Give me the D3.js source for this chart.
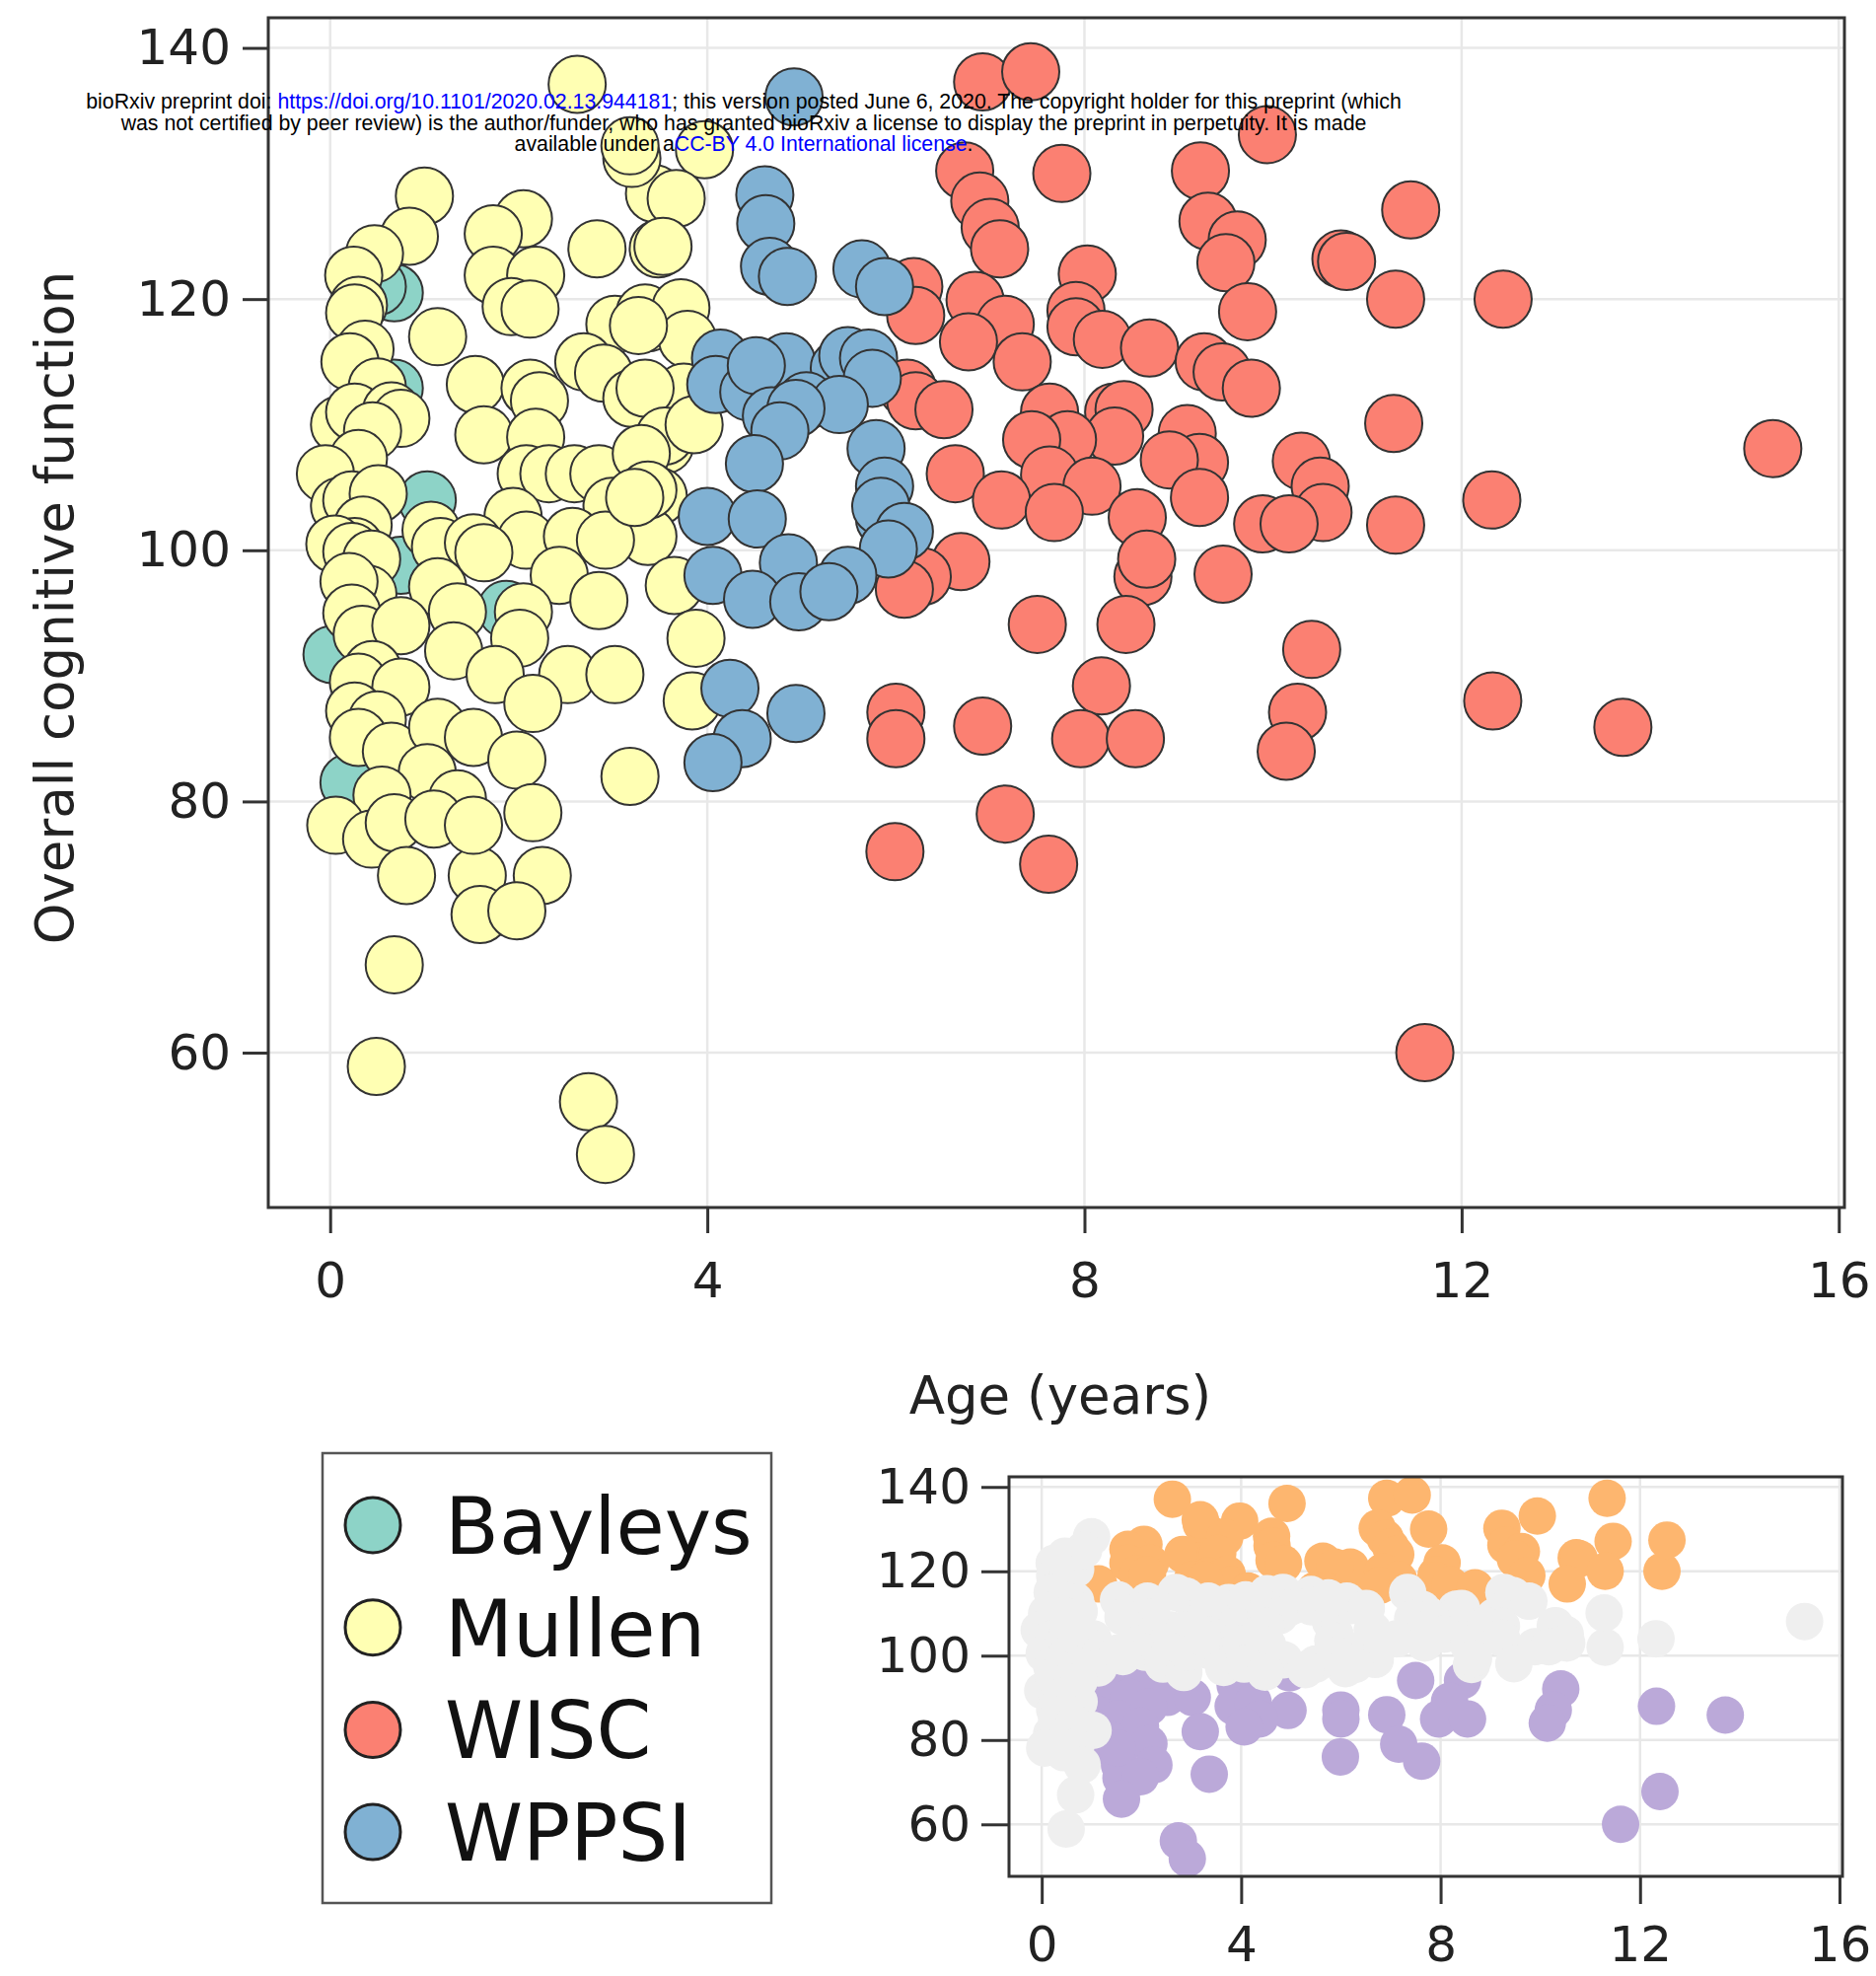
<!DOCTYPE html>
<html>
<head>
<meta charset="utf-8">
<script src="https://cdn.jsdelivr.net/npm/d3@7"></script>
<style>
body { margin: 0; background: #fff; }
</style>
</head>
<body>
<script>
// [age (years), overall cognitive score] per instrument
var bayleys = [[0.68,120.5],[0.5,121],[0.68,112.9],[1.03,104.0],[0.75,98.8],[0.02,91.7],[1.87,95.3],[0.2,81.5]];

var mullen = [
  [1.0,128.2],[0.84,125.0],[0.47,123.6],[0.25,121.9],[0.3,119.5],[0.26,118.9],[0.37,116.0],[0.21,115.0],
  [0.5,113],[0.1,110],[0.26,111.0],[0.65,111.1],[0.75,110.5],[0.45,109.5],[0.3,107.3],[-0.05,106.1],
  [0.1,103.5],[0.23,104.0],[0.51,104.5],[0.35,102],[0.26,100.3],[0.05,100.5],[1.07,101.6],[1.14,117.0],
  [2.05,126.4],[1.73,125.2],[1.73,121.9],[2.18,121.9],[1.92,119.4],[2.12,119.2],[2.83,124.0],[3.44,128.4],
  [3.48,124.0],[3.2,131.2],[3.02,118.0],[3.37,118.1],[2.69,115.0],[2.9,114.1],[3.2,112.1],[3.55,108.4],
  [1.54,113.2],[2.12,112.9],[2.22,111.9],[1.63,109.2],[2.18,109.0],[2.08,106.1],[2.32,106.1],[2.59,106.1],
  [2.85,106.1],[3.48,104.3],[2.99,103.5],[1.94,102.7],[2.08,100.8],[3.37,101.1],[1.17,100.3],[1.52,100.6],
  [2.57,101.1],[0.23,99.9],[0.44,99.3],[1.14,97.1],[1.63,99.8],[2.43,98.0],[2.85,96.0],[2.92,100.8],
  [0.4,96.5],[0.2,97.5],[0.23,95.0],[0.34,93.3],[0.75,94.0],[1.35,95.1],[1.31,92.0],[2.05,95.1],
  [2.01,93.0],[1.75,90.1],[2.52,90.1],[3.02,90.1],[0.45,90.5],[0.3,89.5],[0.75,89.1],[0.26,87.2],
  [0.5,86.5],[0.3,85.1],[0.65,84],[1.14,85.9],[1.52,85.1],[2.15,87.8],[1.98,83.3],[1.03,82.3],
  [0.55,80.5],[1.35,80.2],[2.15,79.1],[3.18,82.0],[0.06,78.1],[0.44,77.0],[0.68,78.3],[0.81,74.1],
  [1.56,74.1],[2.25,74.1],[1.59,71.0],[1.98,71.3],[1.1,78.6],[1.52,78.1],[0.68,67.0],[0.49,58.9],
  [2.74,56.1],[2.92,51.9],[2.62,137.1],[3.18,132.2],[3.97,131.9],[3.67,128.0],[3.53,124.2],[3.34,118.9],
  [3.72,119.3],[3.79,116.8],[3.27,117.9],[3.75,112.6],[3.34,112.9],[3.55,109.1],[3.86,110.0],[3.3,107.7],
  [3.37,104.8],[3.23,104.2],[3.65,97.2],[3.88,93.0],[3.84,88.0]
];

var wisc = [
  [6.92,137.3],[7.43,138.1],[9.94,133.1],[6.73,130.2],[7.76,130.0],[9.23,130.2],[6.89,127.8],[7.0,125.7],
  [7.1,124.0],[9.31,126.2],[9.62,124.7],[9.5,122.9],[9.73,119.0],[11.46,127.1],[10.72,123.2],[10.78,123.0],
  [11.3,120.0],[12.44,120.0],[6.19,121.0],[6.21,118.7],[6.84,119.9],[7.16,118.0],[8.03,122.0],[7.91,119.1],
  [7.91,117.8],[6.77,116.6],[8.19,116.8],[8.69,116.1],[7.34,115.0],[9.27,115.0],[9.46,114.2],[9.77,112.9],
  [6.12,112.9],[6.21,111.9],[6.51,111.2],[7.63,111.0],[8.31,111.0],[8.42,111.2],[9.09,109.3],[8.32,109.1],
  [7.82,108.8],[7.44,108.8],[9.22,107.0],[8.9,107.2],[6.63,106.1],[7.63,106.0],[8.08,105.1],[7.12,104.0],
  [7.68,103.0],[8.56,102.6],[9.22,104.2],[10.3,107.1],[10.5,105.1],[10.53,103.0],[9.89,102.1],[10.17,102.1],
  [11.3,102.0],[11.28,110.1],[12.32,104.0],[15.3,108.1],[8.62,97.9],[8.66,99.3],[9.47,98.1],[6.69,99.1],
  [6.28,97.9],[6.09,96.9],[7.5,94.1],[8.44,94.1],[10.41,92.1],[8.18,89.2],[10.26,87.1],[10.14,84.0],
  [12.33,88.0],[13.71,85.9],[6.0,87.1],[6.0,85.0],[6.92,86.0],[7.96,85.0],[8.54,85.0],[7.16,79.0],
  [5.99,76.0],[7.62,75.0],[11.61,60.0]
];

var wppsi = [
  [4.92,136.1],[4.61,128.3],[4.62,126.0],[4.66,122.6],[4.85,121.8],[5.64,122.4],[5.88,121.0],[4.14,115.3],
  [4.09,113.2],[4.44,112.6],[4.86,114.2],[4.84,115.0],[5.4,114.5],[5.49,115.5],[5.71,115.3],[5.75,113.7],
  [4.52,114.7],[5.05,111.9],[4.68,110.7],[5.4,111.6],[4.94,111.3],[4.77,109.5],[4.5,106.9],[5.79,108.1],
  [5.88,105.1],[4.0,102.7],[4.53,102.5],[5.88,102.5],[5.84,103.5],[6.09,101.5],[5.92,100.1],[4.06,98.0],
  [4.86,99.0],[4.48,96.1],[4.97,95.9],[5.49,98.0],[5.29,96.7],[4.24,89.0],[4.94,87.0],[4.37,85.0],[4.06,83.1]
];

// small panel: points
var insetExtraHigh = [[11.34,137.3],[12.54,127.4],[10.54,117.0]];
var insetExtraLow = [[12.4,67.8],[3.36,71.9],[1.6,66.0]];

var tests = ["Bayleys", "Mullen", "WISC", "WPPSI"];
var testData = [bayleys, mullen, wisc, wppsi];
var colors = ["#8dd3c7", "#ffffb3", "#fb8072", "#80b1d3"];

var xTicks = [0, 4, 8, 12, 16];
var yTicks = [60, 80, 100, 120, 140];
var xDomain = [-0.656, 16.06];
var yDomain = [47.67, 142.4];

var width = 1902, height = 2003;
var tickFont = "'DejaVu Sans', sans-serif";

var svg = d3.select("body").append("svg")
    .attr("width", width)
    .attr("height", height)
    .style("background", "#fff");

function drawGrid(g, x, y) {
    g.selectAll(".vgrid").data(xTicks).enter().append("line")
        .attr("x1", d => x(d)).attr("x2", d => x(d))
        .attr("y1", y.range()[1]).attr("y2", y.range()[0])
        .attr("stroke", "#e8e8e8").attr("stroke-width", 2.5);
    g.selectAll(".hgrid").data(yTicks).enter().append("line")
        .attr("x1", x.range()[0]).attr("x2", x.range()[1])
        .attr("y1", d => y(d)).attr("y2", d => y(d))
        .attr("stroke", "#e8e8e8").attr("stroke-width", 2.5);
}

function styleAxis(ax) {
    ax.select(".domain").remove();
    ax.selectAll("line").attr("stroke", "#333").attr("stroke-width", 3);
    ax.selectAll("text").attr("fill", "#222").style("font-family", tickFont).style("font-size", "50px");
}

// ---------- main panel ----------
var x = d3.scaleLinear().domain(xDomain).range([272, 1870]);
var y = d3.scaleLinear().domain(yDomain).range([1224, 18]);

var main = svg.append("g");
drawGrid(main, x, y);

testData.forEach(function(data, i) {
    main.append("g").selectAll("circle")
        .data(data)
        .enter().append("circle")
        .attr("cx", d => x(d[0]))
        .attr("cy", d => y(d[1]))
        .attr("r", 29)
        .attr("fill", colors[i])
        .attr("stroke", "#333")
        .attr("stroke-width", 2);
});

main.append("rect")
    .attr("x", 272).attr("y", 18).attr("width", 1870 - 272).attr("height", 1224 - 18)
    .attr("fill", "none").attr("stroke", "#333").attr("stroke-width", 3);

var yAx = main.append("g").attr("transform", "translate(272,0)")
    .call(d3.axisLeft(y).tickValues(yTicks).tickSize(26).tickPadding(12));
styleAxis(yAx);

var xAx = main.append("g").attr("transform", "translate(0,1224)")
    .call(d3.axisBottom(x).tickValues(xTicks).tickSize(26).tickPadding(29));
styleAxis(xAx);

main.append("text")
    .attr("transform", "translate(74,616) rotate(-90)")
    .attr("text-anchor", "middle")
    .style("font-family", tickFont).style("font-size", "53px").attr("fill", "#222")
    .text("Overall cognitive function");

main.append("text")
    .attr("x", 1075).attr("y", 1433)
    .attr("text-anchor", "middle")
    .style("font-family", tickFont).style("font-size", "53px").attr("fill", "#222")
    .text("Age (years)");

// ---------- legend ----------
var legend = svg.append("g");
legend.append("rect")
    .attr("x", 327).attr("y", 1473).attr("width", 455).attr("height", 456)
    .attr("fill", "#fff").attr("stroke", "#555").attr("stroke-width", 2.5);

var items = legend.selectAll(".item").data(tests).enter().append("g")
    .attr("transform", (d, i) => "translate(378," + (1546 + i * 103.7) + ")");
items.append("circle").attr("r", 28)
    .attr("fill", (d, i) => colors[i]).attr("stroke", "#222").attr("stroke-width", 3);
items.append("text").attr("x", 73).attr("y", 29)
    .style("font-family", tickFont).style("font-size", "80px").attr("fill", "#111")
    .text(d => d);

// ---------- small panel ----------
var all = [].concat(bayleys, mullen, wisc, wppsi);
var high = all.filter(d => d[0] > 1.05 && d[1] > 115).concat(insetExtraHigh);
var low = all.filter(d => d[0] > 1.05 && d[1] < 96).concat(insetExtraLow);
var mid = all.filter(d => !(d[0] > 1.05 && (d[1] > 115 || d[1] < 96)));

var x2 = d3.scaleLinear().domain(xDomain).range([1023, 1868]);
var y2 = d3.scaleLinear().domain(yDomain).range([1902, 1497]);

var inset = svg.append("g");
drawGrid(inset, x2, y2);

[[high, "#fdb66f"], [low, "#bba9d9"], [mid, "#efefef"]].forEach(function(s) {
    inset.append("g").selectAll("circle")
        .data(s[0])
        .enter().append("circle")
        .attr("cx", d => x2(d[0]))
        .attr("cy", d => y2(d[1]))
        .attr("r", 19)
        .attr("fill", s[1]);
});

inset.append("rect")
    .attr("x", 1023).attr("y", 1497).attr("width", 1868 - 1023).attr("height", 1902 - 1497)
    .attr("fill", "none").attr("stroke", "#333").attr("stroke-width", 3);

var yAx2 = inset.append("g").attr("transform", "translate(1023,0)")
    .call(d3.axisLeft(y2).tickValues(yTicks).tickSize(28).tickPadding(11));
styleAxis(yAx2);

var xAx2 = inset.append("g").attr("transform", "translate(0,1902)")
    .call(d3.axisBottom(x2).tickValues(xTicks).tickSize(28));
styleAxis(xAx2);
xAx2.selectAll("text")
    .attr("y", 86).attr("dy", null);

// ---------- preprint banner ----------
var banner = [
    [["bioRxiv preprint doi: ", "#000"], ["https://doi.org/10.1101/2020.02.13.944181", "#00f"],
     ["; this version posted June 6, 2020. The copyright holder for this preprint (which", "#000"]],
    [["was not certified by peer review) is the author/funder, who has granted bioRxiv a license to display the preprint in perpetuity. It is made", "#000"]],
    [["available under a", "#000"], ["CC-BY 4.0 International license", "#00f"], [".", "#000"]]
];
var bannerY = [110, 131.5, 153];

banner.forEach(function(line, i) {
    var t = svg.append("text")
        .attr("x", 754).attr("y", bannerY[i])
        .attr("text-anchor", "middle")
        .style("font-family", "'Liberation Sans', Arial, sans-serif")
        .style("font-size", "21.3px");
    line.forEach(function(part) {
        t.append("tspan").attr("fill", part[1]).text(part[0]);
    });
});
</script>
</body>
</html>
